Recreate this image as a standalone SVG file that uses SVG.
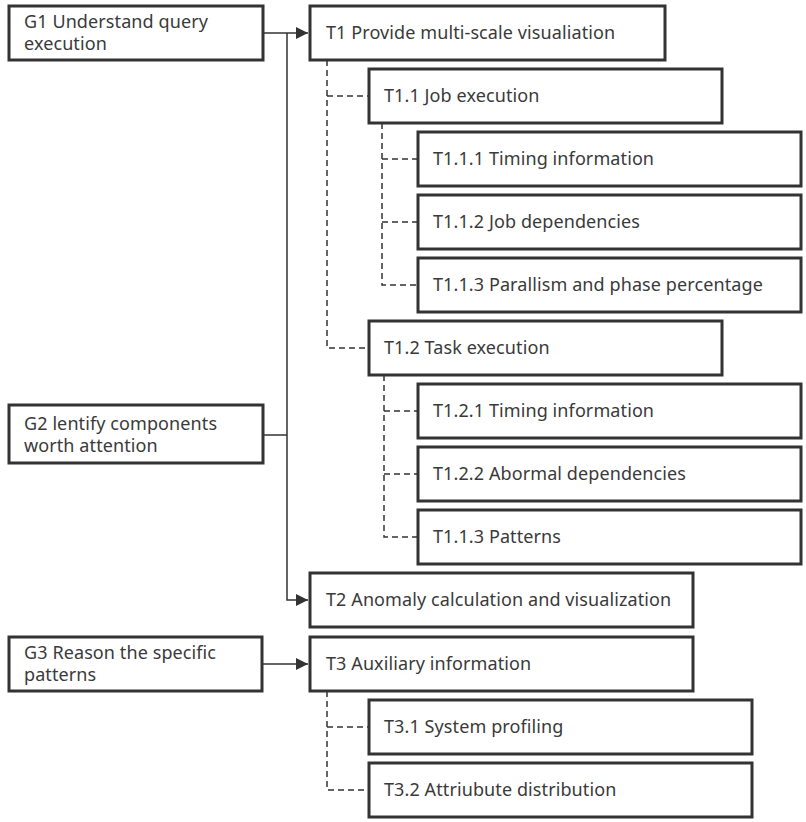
<svg xmlns="http://www.w3.org/2000/svg" width="806" height="822" viewBox="0 0 806 822">
<defs>
<style>
.box{fill:#fff;stroke:#333;stroke-width:3}
.t{font-family:"Noto Sans","Open Sans","Liberation Sans",sans-serif;font-size:18px;letter-spacing:0.1px;fill:#3a3a3a}
.solid{fill:none;stroke:#333;stroke-width:1.5}
.dash{fill:none;stroke:#333;stroke-width:1.5;stroke-dasharray:6 4}
</style>
<marker id="arr" viewBox="0 0 10 10" refX="10" refY="5" markerWidth="12" markerHeight="12" markerUnits="userSpaceOnUse" orient="auto">
<path d="M0,0 L10,5 L0,10 z" fill="#333"/>
</marker>
</defs>
<rect width="806" height="822" fill="#fff"/>
<g id="connectors">
<path class="solid" d="M263,33 H308" marker-end="url(#arr)"/>
<path class="solid" d="M287,33 V600 H308" marker-end="url(#arr)"/>
<path class="solid" d="M263,435 H287"/>
<path class="solid" d="M263,664 H308" marker-end="url(#arr)"/>
<path class="dash" d="M327,60 V348 H369 M327,96 H369"/>
<path class="dash" d="M382,123 V285 H418 M382,159 H418 M382,222 H418"/>
<path class="dash" d="M384,375 V537 H418 M384,411 H418 M384,474 H418"/>
<path class="dash" d="M327,691 V790 H369 M327,727 H369"/>
</g>
<g id="G1"><rect class="box" x="9" y="6" width="254" height="54"/><text class="t" x="24" y="28">G1 Understand query</text><text class="t" x="24" y="50">execution</text></g>
<g id="G2"><rect class="box" x="9" y="405" width="254" height="58"/><text class="t" x="24" y="430">G2 lentify components</text><text class="t" x="24" y="452">worth attention</text></g>
<g id="G3"><rect class="box" x="9" y="637" width="253" height="54"/><text class="t" x="24" y="659">G3 Reason the specific</text><text class="t" x="24" y="681">patterns</text></g>
<g id="T1"><rect class="box" x="310" y="6" width="355" height="54"/><text class="t" x="326" y="39">T1 Provide multi-scale visualiation</text></g>
<g id="T1.1"><rect class="box" x="369" y="69" width="353" height="54"/><text class="t" x="384" y="102">T1.1 Job execution</text></g>
<g id="T1.1.1"><rect class="box" x="418" y="132" width="383" height="54"/><text class="t" x="433" y="165">T1.1.1 Timing information</text></g>
<g id="T1.1.2"><rect class="box" x="418" y="195" width="383" height="54"/><text class="t" x="433" y="228">T1.1.2 Job dependencies</text></g>
<g id="T1.1.3"><rect class="box" x="418" y="258" width="383" height="54"/><text class="t" x="433" y="291">T1.1.3 Parallism and phase percentage</text></g>
<g id="T1.2"><rect class="box" x="369" y="321" width="353" height="54"/><text class="t" x="384" y="354">T1.2 Task execution</text></g>
<g id="T1.2.1"><rect class="box" x="418" y="384" width="383" height="54"/><text class="t" x="433" y="417">T1.2.1 Timing information</text></g>
<g id="T1.2.2"><rect class="box" x="418" y="447" width="383" height="54"/><text class="t" x="433" y="480">T1.2.2 Abormal dependencies</text></g>
<g id="T1.2.3"><rect class="box" x="418" y="510" width="383" height="54"/><text class="t" x="433" y="543">T1.1.3 Patterns</text></g>
<g id="T2"><rect class="box" x="310" y="573" width="383" height="54"/><text class="t" x="326" y="606">T2 Anomaly calculation and visualization</text></g>
<g id="T3"><rect class="box" x="310" y="637" width="383" height="54"/><text class="t" x="326" y="670">T3 Auxiliary information</text></g>
<g id="T3.1"><rect class="box" x="369" y="700" width="383" height="54"/><text class="t" x="384" y="733">T3.1 System profiling</text></g>
<g id="T3.2"><rect class="box" x="369" y="763" width="383" height="54"/><text class="t" x="384" y="796">T3.2 Attriubute distribution</text></g>
</svg>
